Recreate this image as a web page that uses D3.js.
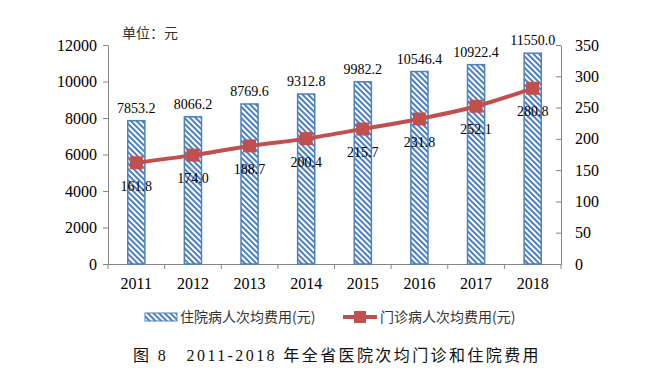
<!DOCTYPE html>
<html>
<head>
<meta charset="utf-8">
<script src="https://cdn.jsdelivr.net/npm/d3@7"></script>
<style>
  body { margin: 0; background: #fff; }
  svg { display: block; }
</style>
</head>
<body>
<div id="chart"></div>
<script>
const years = ["2011", "2012", "2013", "2014", "2015", "2016", "2017", "2018"];
const inpatient = [7853.2, 8066.2, 8769.6, 9312.8, 9982.2, 10546.4, 10922.4, 11550.0];
const outpatient = [161.8, 174.0, 188.7, 200.4, 215.7, 231.8, 252.1, 280.8];
const leftTicks = [0, 2000, 4000, 6000, 8000, 10000, 12000];
const rightTicks = [0, 50, 100, 150, 200, 250, 300, 350];
const barName = "住院病人次均费用(元)";
const lineName = "门诊病人次均费用(元)";
const unitText = "单位：元";
const captionText = "图 8　2011-2018 年全省医院次均门诊和住院费用";

const W = 658, H = 377;
const plotL = 108, plotR = 561, plotT = 45, plotB = 264;
const serif = "'Liberation Serif', 'Times New Roman', serif";
const sans = "'Noto Sans CJK SC', 'Noto Sans', sans-serif";
const blue = "#4f81bd", red = "#c0504d", axisColor = "#868686";

const svg = d3.select("#chart").append("svg")
    .attr("width", W)
    .attr("height", H);

// hatch pattern for bars
const defs = svg.append("defs");
defs.append("pattern")
    .attr("id", "hatch")
    .attr("patternUnits", "userSpaceOnUse")
    .attr("width", 4)
    .attr("height", 4)
    .attr("patternTransform", "rotate(45)")
    .call(p => {
        p.append("rect").attr("width", 4).attr("height", 4).attr("fill", "#fff");
        p.append("rect").attr("width", 4).attr("height", 2).attr("fill", "#4a7fc8");
    });

const x = d3.scaleBand().domain(years).range([plotL, plotR]).paddingInner(0.68).paddingOuter(0.34);
const xTick = d3.scaleBand().domain(years).range([plotL, plotR]);
const yL = d3.scaleLinear().domain([0, 12000]).range([plotB, plotT]);
const yR = d3.scaleLinear().domain([0, 350]).range([plotB, plotT]);

// axes
const axL = svg.append("g")
    .attr("transform", `translate(${plotL},0)`)
    .call(d3.axisLeft(yL).tickValues(leftTicks).tickFormat(d3.format("d"))
        .tickSize(5).tickSizeOuter(0).tickPadding(6));
const axR = svg.append("g")
    .attr("transform", `translate(${plotR},0)`)
    .call(d3.axisRight(yR).tickValues(rightTicks).tickFormat(d3.format("d"))
        .tickSize(-5).tickSizeOuter(0).tickPadding(14));
const axB = svg.append("g")
    .attr("transform", `translate(0,${plotB})`)
    .call(d3.axisBottom(xTick).tickSize(0).tickPadding(14));

// x axis category boundary ticks
svg.append("g").selectAll("line")
    .data(d3.range(years.length + 1))
    .join("line")
    .attr("x1", i => plotL + i * xTick.step())
    .attr("x2", i => plotL + i * xTick.step())
    .attr("y1", plotB)
    .attr("y2", plotB + 5)
    .attr("stroke", axisColor);

[axL, axR, axB].forEach(g => {
    g.attr("font-family", serif).attr("font-size", 16);
    g.selectAll("path, line").attr("stroke", axisColor);
    g.selectAll("text")
        .style("font-family", serif)
        .style("font-size", "16px")
        .attr("fill", "#000");
});

// bars
svg.append("g").selectAll("rect")
    .data(inpatient)
    .join("rect")
    .attr("x", (d, i) => x(years[i]) + 0.5)
    .attr("y", d => yL(d))
    .attr("width", x.bandwidth() - 1)
    .attr("height", d => plotB - yL(d))
    .attr("fill", "url(#hatch)")
    .attr("stroke", blue)
    .attr("stroke-width", 1.5);

svg.append("g").selectAll("text")
    .data(inpatient)
    .join("text")
    .attr("x", (d, i) => x(years[i]) + x.bandwidth() / 2)
    .attr("y", d => yL(d) - 8)
    .attr("text-anchor", "middle")
    .attr("font-family", serif)
    .attr("font-size", 14)
    .text(d => d.toFixed(1));

// line
const cx = i => x(years[i]) + x.bandwidth() / 2;
const line = d3.line()
    .x((d, i) => cx(i))
    .y(d => yR(d))
    .curve(d3.curveMonotoneX);

svg.append("path")
    .datum(outpatient)
    .attr("fill", "none")
    .attr("stroke", red)
    .attr("stroke-width", 4)
    .attr("d", line);

svg.append("g").selectAll("rect")
    .data(outpatient)
    .join("rect")
    .attr("x", (d, i) => cx(i) - 6.5)
    .attr("y", d => yR(d) - 6.5)
    .attr("width", 13)
    .attr("height", 13)
    .attr("fill", red);

svg.append("g").selectAll("text")
    .data(outpatient)
    .join("text")
    .attr("x", (d, i) => cx(i))
    .attr("y", d => yR(d) + 28)
    .attr("text-anchor", "middle")
    .attr("font-family", serif)
    .attr("font-size", 14)
    .text(d => d.toFixed(1));

// unit label
svg.append("text")
    .attr("x", 122)
    .attr("y", 38)
    .attr("font-family", sans)
    .attr("font-size", 14)
    .attr("fill", "#333")
    .text(unitText);

// legend
const lg = svg.append("g");
lg.append("rect")
    .attr("x", 145).attr("y", 313).attr("width", 32).attr("height", 8)
    .attr("fill", "url(#hatch)").attr("stroke", blue);
lg.append("text")
    .attr("x", 180).attr("y", 322)
    .attr("font-family", sans).attr("font-size", 14).attr("fill", "#333")
    .text(barName);
lg.append("line")
    .attr("x1", 343).attr("x2", 377).attr("y1", 317).attr("y2", 317)
    .attr("stroke", red).attr("stroke-width", 4);
lg.append("rect")
    .attr("x", 354).attr("y", 311).attr("width", 12).attr("height", 12)
    .attr("fill", red);
lg.append("text")
    .attr("x", 380).attr("y", 322)
    .attr("font-family", sans).attr("font-size", 14).attr("fill", "#333")
    .text(lineName);

// caption
svg.append("text")
    .attr("x", 133)
    .attr("y", 361)
    .attr("font-family", "'Liberation Serif', 'Noto Sans CJK SC', serif")
    .attr("font-size", 16)
    .attr("letter-spacing", 2.4)
    .attr("fill", "#111")
    .text(captionText);
</script>
</body>
</html>
